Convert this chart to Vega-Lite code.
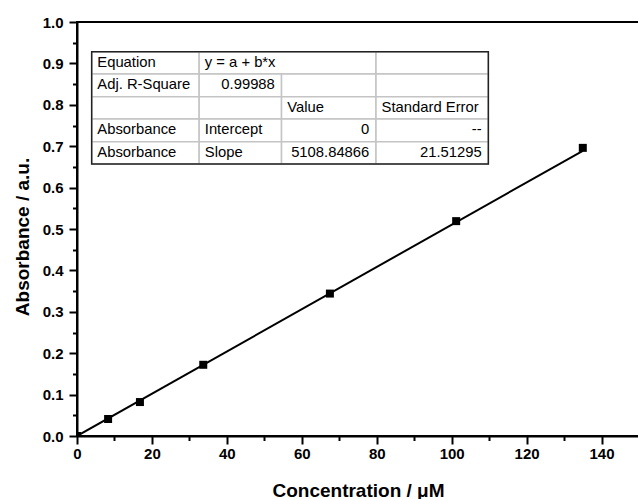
{
  "$schema": "https://vega.github.io/schema/vega-lite/v6.json",
  "width": 562,
  "height": 414,
  "autosize": "none",
  "padding": {"left": 77, "top": 22, "right": 0, "bottom": 63},
  "background": "white",
  "config": {
    "view": {"stroke": "black", "strokeWidth": 2, "fill": "white"},
    "font": "Liberation Sans"
  },
  "resolve": {"axis": {"x": "independent", "y": "independent"}},
  "datasets": {
    "points": [
      {"conc": 0, "abs": 0.0},
      {"conc": 8.3, "abs": 0.041},
      {"conc": 16.8, "abs": 0.082},
      {"conc": 33.7, "abs": 0.172},
      {"conc": 67.5, "abs": 0.344},
      {"conc": 101.2, "abs": 0.519},
      {"conc": 135.0, "abs": 0.696}
    ],
    "fit": [
      {"conc": 0, "abs": 0},
      {"conc": 135.0, "abs": 0.689}
    ],
    "cells": [
      {"x0": 3.92, "x1": 32.61, "y0": 0.9283, "y1": 0.8744},
      {"x0": 32.61, "x1": 79.81, "y0": 0.9283, "y1": 0.8744},
      {"x0": 79.81, "x1": 109.79, "y0": 0.9283, "y1": 0.8744},
      {"x0": 3.92, "x1": 32.61, "y0": 0.8744, "y1": 0.8196},
      {"x0": 32.61, "x1": 54.59, "y0": 0.8744, "y1": 0.8196},
      {"x0": 54.59, "x1": 79.81, "y0": 0.8744, "y1": 0.8196},
      {"x0": 79.81, "x1": 109.79, "y0": 0.8744, "y1": 0.8196},
      {"x0": 3.92, "x1": 32.61, "y0": 0.8196, "y1": 0.7657},
      {"x0": 32.61, "x1": 54.59, "y0": 0.8196, "y1": 0.7657},
      {"x0": 54.59, "x1": 79.81, "y0": 0.8196, "y1": 0.7657},
      {"x0": 79.81, "x1": 109.79, "y0": 0.8196, "y1": 0.7657},
      {"x0": 3.92, "x1": 32.61, "y0": 0.7657, "y1": 0.7109},
      {"x0": 32.61, "x1": 54.59, "y0": 0.7657, "y1": 0.7109},
      {"x0": 54.59, "x1": 79.81, "y0": 0.7657, "y1": 0.7109},
      {"x0": 79.81, "x1": 109.79, "y0": 0.7657, "y1": 0.7109},
      {"x0": 3.92, "x1": 32.61, "y0": 0.7109, "y1": 0.657},
      {"x0": 32.61, "x1": 54.59, "y0": 0.7109, "y1": 0.657},
      {"x0": 54.59, "x1": 79.81, "y0": 0.7109, "y1": 0.657},
      {"x0": 79.81, "x1": 109.79, "y0": 0.7109, "y1": 0.657}
    ],
    "frame": [
      {"x0": 3.92, "x1": 109.79, "y0": 0.9283, "y1": 0.657}
    ],
    "leftText": [
      {"x": 3.92, "y": 0.9014, "t": "Equation"},
      {"x": 32.61, "y": 0.9014, "t": "y = a + b*x"},
      {"x": 3.92, "y": 0.847, "t": "Adj. R-Square"},
      {"x": 54.59, "y": 0.7927, "t": "Value"},
      {"x": 79.81, "y": 0.7927, "t": "Standard Error"},
      {"x": 3.92, "y": 0.7383, "t": "Absorbance"},
      {"x": 32.61, "y": 0.7383, "t": "Intercept"},
      {"x": 3.92, "y": 0.684, "t": "Absorbance"},
      {"x": 32.61, "y": 0.684, "t": "Slope"}
    ],
    "rightText": [
      {"x": 54.59, "y": 0.847, "t": "0.99988"},
      {"x": 79.81, "y": 0.7383, "t": "0"},
      {"x": 109.79, "y": 0.7383, "t": "--"},
      {"x": 79.81, "y": 0.684, "t": "5108.84866"},
      {"x": 109.79, "y": 0.684, "t": "21.51295"}
    ]
  },
  "layer": [
    {
      "data": {"name": "fit"},
      "mark": {"type": "point", "opacity": 0},
      "encoding": {
        "x": {
          "field": "conc", "type": "quantitative",
          "scale": {"domain": [0, 150], "nice": false, "zero": false},
          "axis": {
            "orient": "bottom",
            "values": [10, 30, 50, 70, 90, 110, 130, 150],
            "labels": false,
            "domain": false,
            "grid": false,
            "ticks": true,
            "tickColor": "black",
            "tickWidth": 2,
            "tickSize": 4.5,
            "title": null
          }
        },
        "y": {
          "field": "abs", "type": "quantitative",
          "scale": {"domain": [0, 1], "nice": false, "zero": false},
          "axis": {
            "orient": "left",
            "values": [0.05, 0.15, 0.25, 0.35, 0.45, 0.55, 0.65, 0.75, 0.85, 0.95],
            "labels": false,
            "domain": false,
            "grid": false,
            "ticks": true,
            "tickColor": "black",
            "tickWidth": 2,
            "tickSize": 4.5,
            "title": null
          }
        }
      }
    },
    {
      "data": {"name": "fit"},
      "mark": {"type": "line", "color": "black", "strokeWidth": 2, "clip": true},
      "encoding": {
        "x": {
          "field": "conc", "type": "quantitative",
          "axis": {
            "orient": "bottom",
            "values": [0, 20, 40, 60, 80, 100, 120, 140],
            "format": "d",
            "labelOverlap": false,
            "labelFlush": false,
            "grid": false,
            "ticks": true,
            "domainColor": "black",
            "domainWidth": 2,
            "tickColor": "black",
            "tickWidth": 2,
            "tickSize": 8,
            "labelPadding": 2,
            "labelFont": "Liberation Sans",
            "labelFontSize": 15,
            "labelFontWeight": "bold",
            "labelColor": "black",
            "title": "Concentration / μM",
            "titleFont": "Liberation Sans",
            "titleFontSize": 19,
            "titleFontWeight": "bold",
            "titleColor": "black",
            "titleBaseline": "alphabetic",
            "titleY": 60
          }
        },
        "y": {
          "field": "abs", "type": "quantitative",
          "axis": {
            "orient": "left",
            "values": [0, 0.1, 0.2, 0.3, 0.4, 0.5, 0.6, 0.7, 0.8, 0.9, 1.0],
            "format": ".1f",
            "labelOverlap": false,
            "labelFlush": false,
            "grid": false,
            "ticks": true,
            "domainColor": "black",
            "domainWidth": 2,
            "tickColor": "black",
            "tickWidth": 2,
            "tickSize": 8,
            "labelPadding": 6,
            "labelFont": "Liberation Sans",
            "labelFontSize": 15,
            "labelFontWeight": "bold",
            "labelColor": "black",
            "title": "Absorbance / a.u.",
            "titleFont": "Liberation Sans",
            "titleFontSize": 19,
            "titleFontWeight": "bold",
            "titleColor": "black",
            "titleAngle": -90,
            "titleAlign": "center",
            "titleBaseline": "middle",
            "titleX": -55,
            "titleY": 214.5
          }
        }
      }
    },
    {
      "data": {"name": "points"},
      "mark": {"type": "point", "shape": "square", "filled": true, "color": "black", "size": 64, "opacity": 1, "clip": true},
      "encoding": {
        "x": {"field": "conc", "type": "quantitative", "axis": null},
        "y": {"field": "abs", "type": "quantitative", "axis": null}
      }
    },
    {
      "data": {"name": "cells"},
      "mark": {"type": "rect", "fill": "white", "stroke": "#c4c4c4", "strokeWidth": 1.5},
      "encoding": {
        "x": {"field": "x0", "type": "quantitative", "axis": null},
        "x2": {"field": "x1"},
        "y": {"field": "y0", "type": "quantitative", "axis": null},
        "y2": {"field": "y1"}
      }
    },
    {
      "data": {"name": "frame"},
      "mark": {"type": "rect", "fill": null, "fillOpacity": 0, "stroke": "#222222", "strokeWidth": 1.5},
      "encoding": {
        "x": {"field": "x0", "type": "quantitative", "axis": null},
        "x2": {"field": "x1"},
        "y": {"field": "y0", "type": "quantitative", "axis": null},
        "y2": {"field": "y1"}
      }
    },
    {
      "data": {"name": "leftText"},
      "mark": {"type": "text", "align": "left", "baseline": "middle", "dx": 5.6, "font": "Liberation Sans", "fontSize": 14.8, "color": "black"},
      "encoding": {
        "x": {"field": "x", "type": "quantitative", "axis": null},
        "y": {"field": "y", "type": "quantitative", "axis": null},
        "text": {"field": "t"}
      }
    },
    {
      "data": {"name": "rightText"},
      "mark": {"type": "text", "align": "right", "baseline": "middle", "dx": -6.7, "font": "Liberation Sans", "fontSize": 14.8, "color": "black"},
      "encoding": {
        "x": {"field": "x", "type": "quantitative", "axis": null},
        "y": {"field": "y", "type": "quantitative", "axis": null},
        "text": {"field": "t"}
      }
    }
  ]
}
